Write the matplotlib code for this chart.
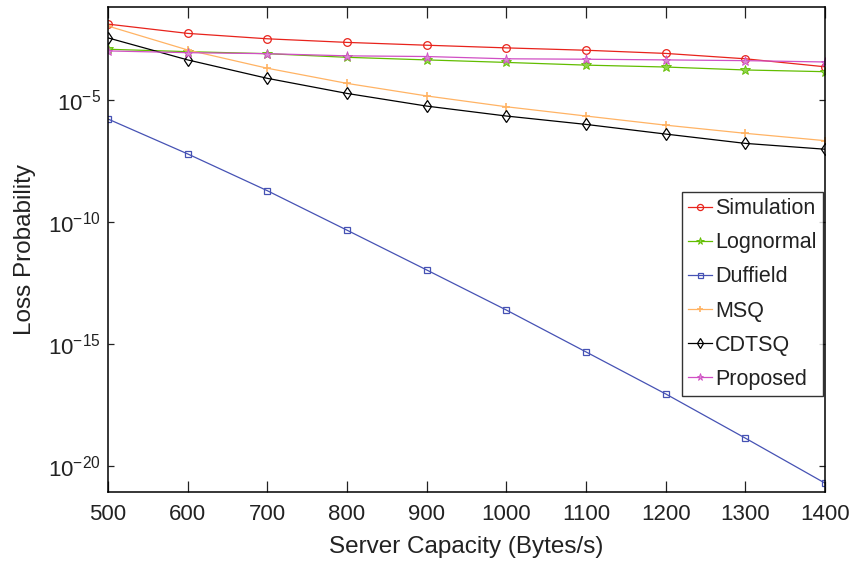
import matplotlib
matplotlib.use("Agg")
import matplotlib.pyplot as plt
from matplotlib.ticker import FixedLocator, NullLocator, LogFormatterSciNotation

plt.rcParams['font.family'] = ['Liberation Sans', 'DejaVu Sans']
plt.rcParams['mathtext.fontset'] = 'custom'
plt.rcParams['mathtext.rm'] = 'Liberation Sans'
plt.rcParams['mathtext.it'] = 'Liberation Sans:italic'
plt.rcParams['mathtext.bf'] = 'Liberation Sans:bold'

# Server capacity (Bytes/s)
capacity = [500, 600, 700, 800, 900, 1000, 1100, 1200, 1300, 1400]

# Loss probability per method
simulation = [1.32e-2, 5.5e-3, 3.3e-3, 2.35e-3, 1.8e-3, 1.4e-3, 1.12e-3, 8.3e-4, 5.0e-4, 2.35e-4]
lognormal = [1.23e-3, 9.8e-4, 8.1e-4, 5.75e-4, 4.5e-4, 3.55e-4, 2.75e-4, 2.3e-4, 1.74e-4, 1.48e-4]
duffield = [1.7e-6, 6.3e-8, 1.95e-9, 4.7e-11, 1.1e-12, 2.5e-14, 4.8e-16, 9.1e-18, 1.4e-19, 2.0e-21]
msq = [1.1e-2, 1.15e-3, 2.05e-4, 4.9e-5, 1.5e-5, 5.4e-6, 2.25e-6, 9.5e-7, 4.4e-7, 2.2e-7]
cdtsq = [3.6e-3, 4.5e-4, 7.9e-5, 1.9e-5, 5.75e-6, 2.25e-6, 1.02e-6, 4.1e-7, 1.7e-7, 9.8e-8]
proposed = [1.05e-3, 8.9e-4, 8.1e-4, 6.6e-4, 6.2e-4, 5.0e-4, 4.8e-4, 4.5e-4, 4.2e-4, 3.7e-4]

y_ticks = [1e-20, 1e-15, 1e-10, 1e-5]

fig = plt.figure(figsize=(8.63, 5.62), dpi=100)
ax = fig.add_axes([108 / 863, 1 - 491.7 / 562, (825 - 108) / 863, (491.7 - 7.3) / 562])

lw = 0.9
ax.plot(capacity, simulation, color='#e8231c', lw=lw, marker='o', ms=5.5,
        mfc='none', mew=0.9, label='Simulation')
ax.plot(capacity, lognormal, color='#62bd00', lw=lw, marker='*', ms=7,
        mfc='#8fd44a', mew=0.6, label='Lognormal')
ax.plot(capacity, duffield, color='#4652b4', lw=lw, marker='s', ms=4.5,
        mfc='none', mew=0.9, label='Duffield')
ax.plot(capacity, msq, color='#ffb364', lw=lw, marker='+', ms=6,
        mew=1.2, label='MSQ')
ax.plot(capacity, cdtsq, color='black', lw=lw, marker='d', ms=6,
        mfc='none', mew=0.9, label='CDTSQ')
ax.plot(capacity, proposed, color='#d04fc4', lw=lw, marker='*', ms=6.5,
        mfc='#d98ad3', mew=0.6, label='Proposed')

ax.set_yscale('log')
ax.set_xlim(500, 1400)
ax.set_ylim(10 ** -21.05, 10 ** -1.19)
ax.set_xticks(capacity)
ax.yaxis.set_major_locator(FixedLocator(y_ticks))
ax.yaxis.set_major_formatter(LogFormatterSciNotation())
ax.yaxis.set_minor_locator(NullLocator())

for s in ax.spines.values():
    s.set_linewidth(1.1)
ax.tick_params(axis='x', which='major', direction='in', length=8, width=0.9,
               top=True, labelsize=16, pad=9, colors='#222222')
ax.tick_params(axis='y', which='major', direction='in', length=4.5, width=0.9,
               right=True, labelsize=16, pad=5, colors='#222222')

ax.set_xlabel('Server Capacity (Bytes/s)', fontsize=17.5, color='#222222', labelpad=8)
ax.set_ylabel('Loss Probability', fontsize=17.5, color='#222222', labelpad=9)

leg = ax.legend(loc='upper left', bbox_to_anchor=(682 / 863, 1 - 191.7 / 562),
                bbox_transform=fig.transFigure, fontsize=15.5, frameon=True,
                fancybox=False, edgecolor='black', handlelength=1.1,
                handletextpad=0.15, labelspacing=0.61, borderpad=0.3,
                borderaxespad=0, markerscale=0.8)
leg.get_frame().set_linewidth(1.0)
for t in leg.get_texts():
    t.set_color('#222222')

fig.savefig('out.png', dpi=100)
